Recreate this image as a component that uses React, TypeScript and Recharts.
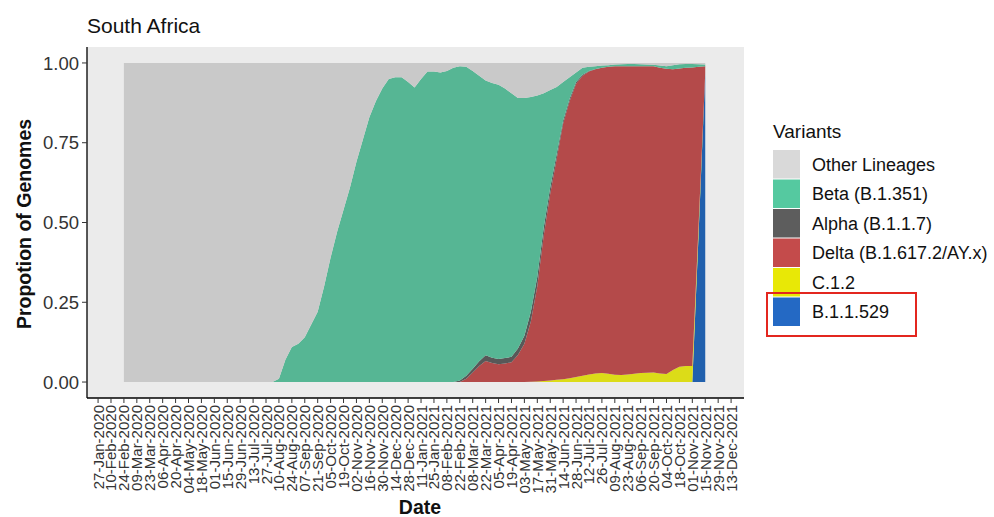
import React from 'react';
import { AreaChart, Area, XAxis, YAxis, CartesianGrid } from 'recharts';

const DATES = [
  '2020-02-24', '2020-08-03',
  '2020-08-10', '2020-08-17', '2020-08-24', '2020-08-31', '2020-09-07', '2020-09-14', '2020-09-21', '2020-09-28',
  '2020-10-05', '2020-10-12', '2020-10-19', '2020-10-26', '2020-11-02', '2020-11-09', '2020-11-16', '2020-11-23',
  '2020-11-30', '2020-12-07', '2020-12-14', '2020-12-21', '2020-12-28', '2021-01-04', '2021-01-11', '2021-01-18',
  '2021-01-25', '2021-02-01', '2021-02-08', '2021-02-15', '2021-02-22', '2021-03-01', '2021-03-08', '2021-03-15',
  '2021-03-22', '2021-03-29', '2021-04-05', '2021-04-12', '2021-04-19', '2021-04-26', '2021-05-03', '2021-05-10',
  '2021-05-17', '2021-05-24', '2021-05-31', '2021-06-07', '2021-06-14', '2021-06-21', '2021-06-28', '2021-07-05',
  '2021-07-12', '2021-07-19', '2021-07-26', '2021-08-02', '2021-08-09', '2021-08-16', '2021-08-23', '2021-08-30',
  '2021-09-06', '2021-09-13', '2021-09-20', '2021-09-27', '2021-10-04', '2021-10-11', '2021-10-18', '2021-10-25',
  '2021-11-01', '2021-11-08', '2021-11-15',
];

const OTHER = [
  1, 1,
  0.99, 0.93, 0.89, 0.88, 0.86, 0.82, 0.78, 0.70,
  0.61, 0.53, 0.46, 0.39, 0.31, 0.24, 0.17, 0.12,
  0.08, 0.05, 0.045, 0.045, 0.06, 0.077, 0.05, 0.027,
  0.027, 0.03, 0.025, 0.015, 0.01, 0.012, 0.025, 0.04,
  0.055, 0.063, 0.068, 0.08, 0.095, 0.11, 0.11, 0.107,
  0.102, 0.095, 0.085, 0.075, 0.06, 0.045, 0.03, 0.015,
  0.012, 0.01, 0.008, 0.007, 0.005, 0.004, 0.003, 0.003,
  0.004, 0.005, 0.006, 0.008, 0.01, 0.007, 0.004, 0.003,
  0.003, 0.004, 0.005,
];

const BETA = [
  0, 0,
  0.01, 0.07, 0.11, 0.12, 0.14, 0.18, 0.22, 0.30,
  0.39, 0.47, 0.54, 0.61, 0.69, 0.76, 0.83, 0.88,
  0.92, 0.95, 0.955, 0.955, 0.94, 0.923, 0.95, 0.973,
  0.973, 0.97, 0.975, 0.985, 0.985, 0.968, 0.933, 0.895,
  0.861, 0.861, 0.86, 0.845, 0.826, 0.785, 0.745, 0.673,
  0.568, 0.42, 0.305, 0.21, 0.12, 0.067, 0.03, 0.022,
  0.013, 0.009, 0.007, 0.005, 0.005, 0.006, 0.007, 0.007,
  0.006, 0.005, 0.004, 0.007, 0.008, 0.013, 0.013, 0.012,
  0.011, 0.008, 0.005,
];

const ALPHA = [
  0, 0,
  0, 0, 0, 0, 0, 0, 0, 0,
  0, 0, 0, 0, 0, 0, 0, 0,
  0, 0, 0, 0, 0, 0, 0, 0,
  0, 0, 0, 0, 0.005, 0.01, 0.012, 0.015,
  0.018, 0.016, 0.016, 0.017, 0.017, 0.02, 0.025, 0.03,
  0.03, 0.025, 0.02, 0.015, 0.01, 0.008, 0.005, 0.003,
  0.002, 0.001, 0, 0, 0, 0, 0, 0,
  0, 0, 0, 0, 0, 0, 0, 0,
  0, 0, 0,
];

const DELTA = [
  0, 0,
  0, 0, 0, 0, 0, 0, 0, 0,
  0, 0, 0, 0, 0, 0, 0, 0,
  0, 0, 0, 0, 0, 0, 0, 0,
  0, 0, 0, 0, 0, 0.01, 0.03, 0.05,
  0.066, 0.06, 0.056, 0.058, 0.062, 0.085, 0.12, 0.189,
  0.298, 0.457, 0.585, 0.693, 0.801, 0.868, 0.919, 0.94,
  0.949, 0.953, 0.957, 0.962, 0.967, 0.968, 0.966, 0.964,
  0.962, 0.961, 0.96, 0.958, 0.957, 0.942, 0.935, 0.935,
  0.936, 0.483, 0.02,
];

const C12 = [
  0, 0,
  0, 0, 0, 0, 0, 0, 0, 0,
  0, 0, 0, 0, 0, 0, 0, 0,
  0, 0, 0, 0, 0, 0, 0, 0,
  0, 0, 0, 0, 0, 0, 0, 0,
  0, 0, 0, 0, 0, 0, 0, 0.001,
  0.002, 0.003, 0.005, 0.007, 0.009, 0.012, 0.016, 0.02,
  0.024, 0.027, 0.028, 0.026, 0.023, 0.022, 0.024, 0.026,
  0.028, 0.029, 0.03, 0.027, 0.025, 0.038, 0.048, 0.05,
  0.05, 0.025, 0,
];

const B11529 = [
  0, 0,
  0, 0, 0, 0, 0, 0, 0, 0,
  0, 0, 0, 0, 0, 0, 0, 0,
  0, 0, 0, 0, 0, 0, 0, 0,
  0, 0, 0, 0, 0, 0, 0, 0,
  0, 0, 0, 0, 0, 0, 0, 0,
  0, 0, 0, 0, 0, 0, 0, 0,
  0, 0, 0, 0, 0, 0, 0, 0,
  0, 0, 0, 0, 0, 0, 0, 0,
  0, 0.48, 0.97,
];

const TICK_LABELS = [
  '27-Jan-2020', '10-Feb-2020', '24-Feb-2020', '09-Mar-2020', '23-Mar-2020', '06-Apr-2020', '20-Apr-2020',
  '04-May-2020', '18-May-2020', '01-Jun-2020', '15-Jun-2020', '29-Jun-2020', '13-Jul-2020', '27-Jul-2020',
  '10-Aug-2020', '24-Aug-2020', '07-Sep-2020', '21-Sep-2020', '05-Oct-2020', '19-Oct-2020', '02-Nov-2020',
  '16-Nov-2020', '30-Nov-2020', '14-Dec-2020', '28-Dec-2020', '11-Jan-2021', '25-Jan-2021', '08-Feb-2021',
  '22-Feb-2021', '08-Mar-2021', '22-Mar-2021', '05-Apr-2021', '19-Apr-2021', '03-May-2021', '17-May-2021',
  '31-May-2021', '14-Jun-2021', '28-Jun-2021', '12-Jul-2021', '26-Jul-2021', '09-Aug-2021', '23-Aug-2021',
  '06-Sep-2021', '20-Sep-2021', '04-Oct-2021', '18-Oct-2021', '01-Nov-2021', '15-Nov-2021', '29-Nov-2021',
  '13-Dec-2021',
];

const Y_TICKS = [0, 0.25, 0.5, 0.75, 1];

const SERIES = [
  { key: 'blue', name: 'B.1.1.529', color: '#2160ad', swatch: '#2469c4' },
  { key: 'c12', name: 'C.1.2', color: '#dcdc18', swatch: '#e8e806' },
  { key: 'delta', name: 'Delta (B.1.617.2/AY.x)', color: '#b44a4a', swatch: '#c44b4b' },
  { key: 'alpha', name: 'Alpha (B.1.1.7)', color: '#585858', swatch: '#5d5d5d' },
  { key: 'beta', name: 'Beta (B.1.351)', color: '#56b694', swatch: '#55c9a0' },
  { key: 'other', name: 'Other Lineages', color: '#c9c9c9', swatch: '#d9d9d9' },
];
const LEGEND_ORDER = ['other', 'beta', 'alpha', 'delta', 'c12', 'blue'];

const FONT = '"Liberation Sans", Arial, Helvetica, sans-serif';
const MONTHS = ['Jan', 'Feb', 'Mar', 'Apr', 'May', 'Jun', 'Jul', 'Aug', 'Sep', 'Oct', 'Nov', 'Dec'];
const ORIGIN = Date.UTC(2020, 0, 27);
const dayOf = (ms: number) => Math.round((ms - ORIGIN) / 86400000);
const labelDay = (s: string) => {
  const [d, m, y] = s.split('-');
  return dayOf(Date.UTC(Number(y), MONTHS.indexOf(m), Number(d)));
};

const data = DATES.map((d, i) => ({
  t: dayOf(Date.parse(d)),
  blue: B11529[i],
  c12: C12[i],
  delta: DELTA[i],
  alpha: ALPHA[i],
  beta: BETA[i],
  other: OTHER[i],
}));

const X_TICKS = TICK_LABELS.map(labelDay);
const LABEL_BY_DAY = new Map<number, string>(X_TICKS.map((t, i) => [t, TICK_LABELS[i]]));

const XTick = (props: any) => {
  const { x, y, payload } = props;
  const label = LABEL_BY_DAY.get(payload.value) ?? '';
  return (
    <text
      x={x}
      y={y}
      transform={`rotate(-90 ${x} ${y})`}
      textAnchor="end"
      dominantBaseline="central"
      fontSize={15}
      fontFamily={FONT}
      fill="#333"
    >
      {label}
    </text>
  );
};

export default function App() {
  const legendItems = LEGEND_ORDER.map((k) => SERIES.find((s) => s.key === k)!);
  return (
    <div style={{ position: 'absolute', left: 0, top: 0, width: 994, height: 517, background: '#fff' }}>
      <div style={{ position: 'absolute', left: 0, top: 0 }}>
        <AreaChart width={994} height={517} data={data} margin={{ top: 47, right: 250, left: 0, bottom: 0 }}>
          <CartesianGrid fill="#ebebeb" horizontal={false} vertical={false} stroke="none" />
          <XAxis
            type="number"
            dataKey="t"
            domain={[-12, 700]}
            ticks={X_TICKS}
            interval={0}
            height={119}
            tickSize={5}
            tickMargin={2}
            tick={<XTick />}
            axisLine={{ stroke: '#000', strokeWidth: 1.3 }}
            tickLine={{ stroke: '#333' }}
          />
          <YAxis
            type="number"
            domain={[-0.05, 1.05]}
            ticks={Y_TICKS}
            width={87}
            tickSize={5}
            tickMargin={3}
            tickFormatter={(v: number) => v.toFixed(2)}
            tick={{ fontSize: 18.5, fontFamily: FONT, fill: '#333' }}
            axisLine={{ stroke: '#000', strokeWidth: 1.3 }}
            tickLine={{ stroke: '#333' }}
          />
          {SERIES.map((s) => (
            <Area
              key={s.key}
              type="linear"
              dataKey={s.key}
              name={s.name}
              stackId="1"
              stroke="none"
              fill={s.color}
              fillOpacity={1}
              dot={false}
              activeDot={false}
              isAnimationActive={false}
            />
          ))}
        </AreaChart>
      </div>
      <svg
        width={994}
        height={517}
        style={{ position: 'absolute', left: 0, top: 0, pointerEvents: 'none' }}
        fontFamily={FONT}
      >
        <text x={87} y={33} fontSize={21} fill="#111">South Africa</text>
        <text
          x={31}
          y={224}
          transform="rotate(-90 31 224)"
          textAnchor="middle"
          fontSize={19.5}
          fontWeight="bold"
          fill="#111"
        >
          Propotion of Genomes
        </text>
        <text x={420} y={514} textAnchor="middle" fontSize={19.5} fontWeight="bold" fill="#111">Date</text>
        <text x={773} y={138} fontSize={19} fill="#111">Variants</text>
        {legendItems.map((s, i) => (
          <g key={s.key}>
            <rect x={773} y={150 + i * 29.5} width={27} height={28.5} fill={s.swatch} />
            <text x={812} y={150 + i * 29.5 + 14.5} dominantBaseline="central" fontSize={18} fill="#111">
              {s.name}
            </text>
          </g>
        ))}
        <rect x={767} y={293} width={149} height={43} fill="none" stroke="#e3261f" strokeWidth={2} />
      </svg>
    </div>
  );
}
